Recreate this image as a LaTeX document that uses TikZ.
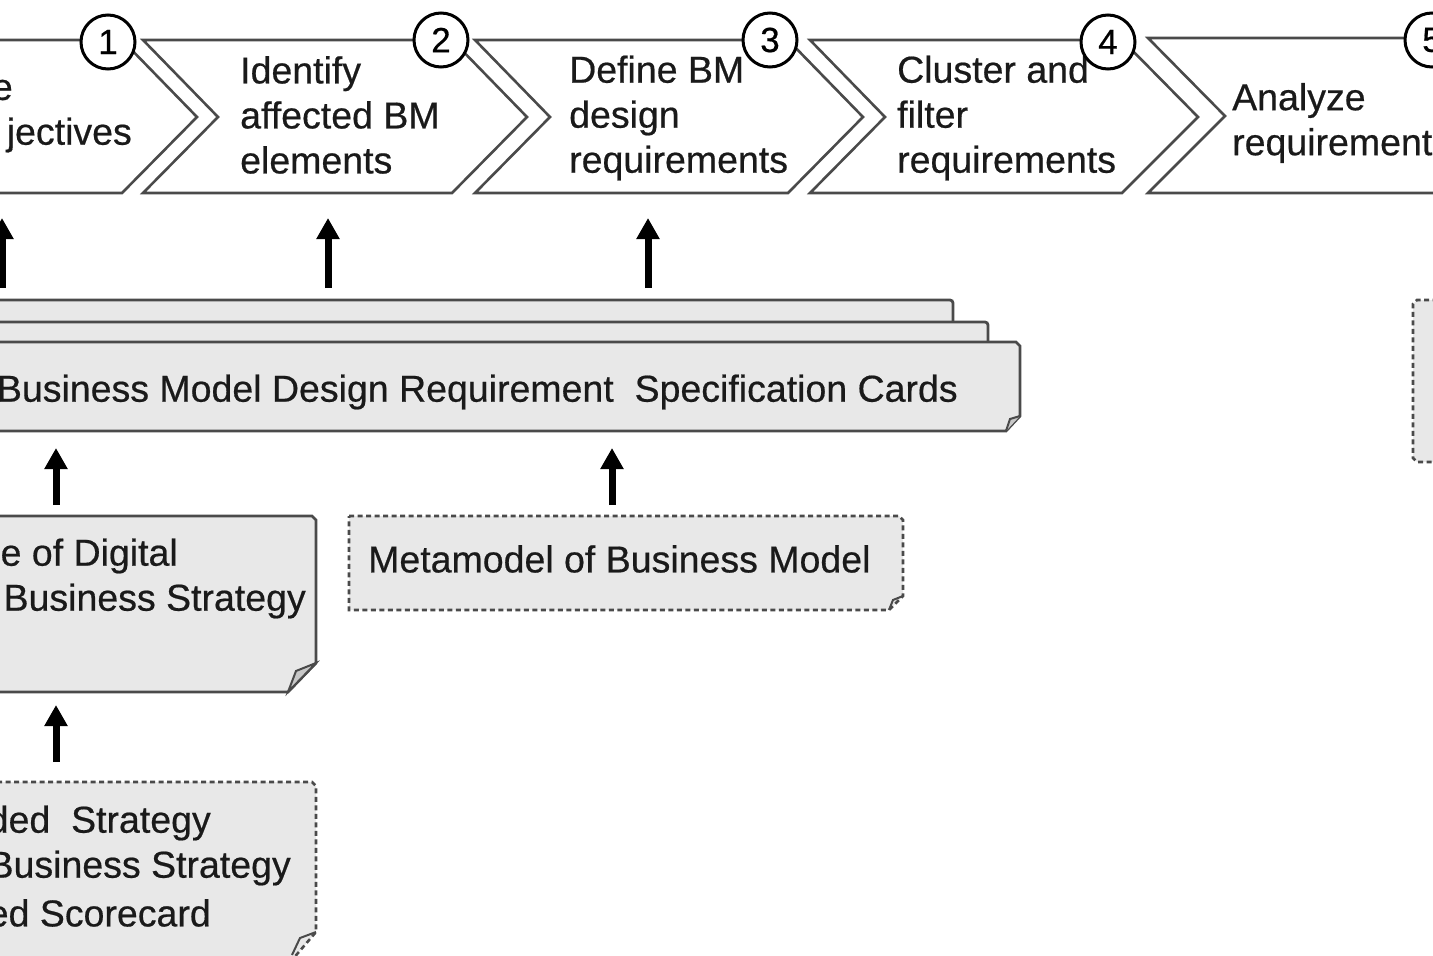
\documentclass[tikz,border=0pt]{standalone}
\usepackage{fontspec}
\setmainfont{Liberation Sans}[FakeBold=0.5]
\usetikzlibrary{arrows.meta}
\definecolor{edge}{HTML}{4A4A4A}
\definecolor{paper}{HTML}{E8E8E8}
\definecolor{foldc}{HTML}{C8C8C8}
\definecolor{ink}{HTML}{1A1A1A}
\tikzset{
  chev/.style={draw=edge, line width=2.6pt, fill=white, line join=miter},
  numc/.style={circle, draw=black, line width=3pt, fill=white, minimum size=54pt, inner sep=0pt, font=\fontsize{35}{38}\selectfont},
  txt/.style={text=ink, font=\fontsize{37.5}{45}\selectfont, inner sep=0pt, align=left},
  card/.style={draw=edge, line width=2.8pt, fill=paper, rounded corners=3pt},
  docsolid/.style={draw=edge, line width=2.8pt, fill=paper},
  docdash/.style={draw=edge, line width=2.6pt, fill=paper, dash pattern=on 5pt off 3.5pt},
  upar/.style={draw=black, line width=7pt, -{Triangle[width=22pt,length=21pt]}},
}
\begin{document}
\begin{tikzpicture}[x=1pt,y=-1pt]
\useasboundingbox (0,0) rectangle (1433,956);
\clip (0,0) rectangle (1433,956);
% chevrons
\draw[chev] (-250,40) -- (122,40) -- (197,117) -- (122,193) -- (-250,193) -- cycle;
\draw[chev] (143,40) -- (452,40) -- (527,117) -- (452,193) -- (143,193) -- (218,117) -- cycle;
\draw[chev] (475,40) -- (788,40) -- (863,117) -- (788,193) -- (475,193) -- (550,117) -- cycle;
\draw[chev] (810,40) -- (1122,40) -- (1198,117) -- (1122,193) -- (810,193) -- (885,117) -- cycle;
\draw[chev] (1148,38) -- (1480,38) -- (1480,193) -- (1148,193) -- (1225,116) -- cycle;
% chevron texts
\node[txt, anchor=east] (t1a) at (13,90) {e};
\node[txt, anchor=east] (t1b) at (132,135) {jectives};
\node[txt, anchor=west] (t2) at (240,115) {Identify\\affected BM\\elements};
\node[txt, anchor=west] (t3) at (569,118) {Define BM\\design\\requirements};
\node[txt, anchor=west] (t4) at (897,118) {Cluster and\\filter\\requirements};
\node[txt, anchor=west] (t5) at (1232,123) {Analyze\\requirements};
% number circles
\node[numc] (n1) at (108,42) {1};
\node[numc] (n2) at (441,40) {2};
\node[numc] (n3) at (770,40) {3};
\node[numc] (n4) at (1108,42) {4};
\node[numc] (n5) at (1432,40) {5};
% stacked cards
\draw[card] (-20,400) -- (-20,300) -- (953,300) -- (953,400);
\draw[card] (-20,400) -- (-20,322) -- (988,322) -- (988,400);
\draw[docsolid] (-20,342) -- (1016,342) to[bend left=10] (1020,346) -- (1020,416) -- (1006,431) -- (-20,431) -- cycle;
\draw[edge, line width=2pt, fill=foldc] (1020,416) -- (1010,419) -- (1006,431);
\node[txt, anchor=east] (cards) at (958,392) {Business Model Design Requirement\ \ Specification Cards};
% solid document
\draw[docsolid] (-20,516) -- (312,516) to[bend left=10] (316,520) -- (316,663) -- (288,692) -- (-20,692) -- cycle;
\draw[edge, line width=2pt, fill=foldc] (316,663) -- (296,671) -- (288,692) -- cycle;
\node[txt, anchor=east] (d1a) at (178,556) {e of Digital};
\node[txt, anchor=east] (d1b) at (306,601) {Business Strategy};
% metamodel dashed box
\draw[docdash] (349,516) -- (899,516) to[bend left=10] (903,520) -- (903,596) -- (889,610) -- (349,610) -- cycle;
\draw[edge, line width=2pt] (903,596) -- (893,600) -- (889,610);
\node[txt, anchor=west] (meta) at (368,559) {Metamodel of Business Model};
% lower dashed document
\draw[docdash] (-20,782) -- (312,782) to[bend left=10] (316,786) -- (316,932) -- (292,960) -- (-20,960) -- cycle;
\draw[edge, line width=2pt] (316,932) -- (300,938) -- (292,955);
\node[txt, anchor=east] (d2a) at (211,823) {ded\ \ Strategy};
\node[txt, anchor=east] (d2b) at (291,868) {Business Strategy};
\node[txt, anchor=east] (d2c) at (211,913) {ed Scorecard};
% right dashed box
\draw[docdash] (1480,300) -- (1417,300) to[bend right=10] (1413,304) -- (1413,458) to[bend right=10] (1417,462) -- (1480,462);
% connector coordinates
\coordinate (s0) at (2,288);   \coordinate (e0) at (2,218);
\coordinate (s1) at (328,288); \coordinate (e1) at (328,218);
\coordinate (s2) at (648,288); \coordinate (e2) at (648,218);
\coordinate (s3) at (56,505);  \coordinate (e3) at (56,448);
\coordinate (s4) at (612,505); \coordinate (e4) at (612,448);
\coordinate (s5) at (56,762);  \coordinate (e5) at (56,705);
\draw[upar] (s0) -- (e0);
\draw[upar] (s1) -- (e1);
\draw[upar] (s2) -- (e2);
\draw[upar] (s3) -- (e3);
\draw[upar] (s4) -- (e4);
\draw[upar] (s5) -- (e5);
\end{tikzpicture}
\end{document}
